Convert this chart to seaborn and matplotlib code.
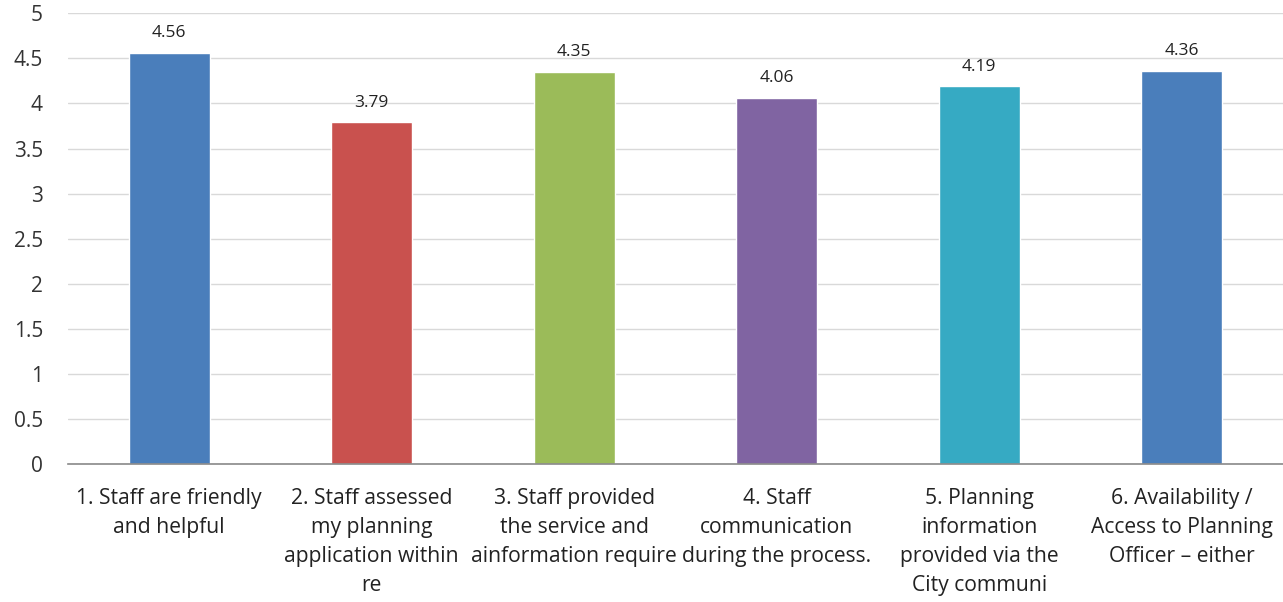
import numpy as np
import pandas as pd
import matplotlib
matplotlib.use("Agg")
import matplotlib.pyplot as plt
import seaborn as sns

labels = [
    "1. Staff are friendly\nand helpful",
    "2. Staff assessed\nmy planning\napplication within\nre",
    "3. Staff provided\nthe service and\nainformation require",
    "4. Staff\ncommunication\nduring the process.",
    "5. Planning\ninformation\nprovided via the\nCity communi",
    "6. Availability /\nAccess to Planning\nOfficer \u2013 either",
]
scores = [4.56, 3.79, 4.35, 4.06, 4.19, 4.36]
colors = ["#4A7EBB", "#C9514E", "#9BBB59", "#8064A2", "#36AAC3", "#4A7EBB"]
yticks = [0, 0.5, 1, 1.5, 2, 2.5, 3, 3.5, 4, 4.5, 5]

sns.set_style("white")
plt.rcParams['font.family'] = ['Open Sans', 'DejaVu Sans']

df = pd.DataFrame({'label': labels, 'score': scores})

fig = plt.figure(figsize=(12.83, 6.02), dpi=100)
ax = fig.add_axes([0.053, 0.229, 0.947, 0.749])

sns.barplot(data=df, x='label', y='score', hue='label', palette=colors,
            legend=False, width=0.4, saturation=1, ax=ax, zorder=3)

for i, v in enumerate(scores):
    ax.text(i, v + 0.13, f'{v:.2f}', ha='center', va='bottom', fontsize=12.5, color='#222222')

ax.set_ylim(0, 5)
ax.set_xlim(-0.5, 5.5)
ax.set_yticks(yticks)
ax.set_yticklabels([f'{t:g}' for t in yticks], fontsize=15, color='#333333')
ax.tick_params(axis='x', labelsize=15.2, colors='#222222', length=0, pad=17)
for t in ax.get_xticklabels():
    t.set_linespacing(1.5)
ax.tick_params(axis='y', length=0, pad=18)
ax.set_xlabel('')
ax.set_ylabel('')
ax.grid(axis='y', color='#D9D9D9', linewidth=1, zorder=0)
for s in ['top', 'right', 'left']:
    ax.spines[s].set_visible(False)
ax.spines['bottom'].set_color('#898989')
ax.spines['bottom'].set_linewidth(1.2)
ax.spines['bottom'].set_zorder(4)

plt.savefig('out.png', dpi=100)
plt.close()
